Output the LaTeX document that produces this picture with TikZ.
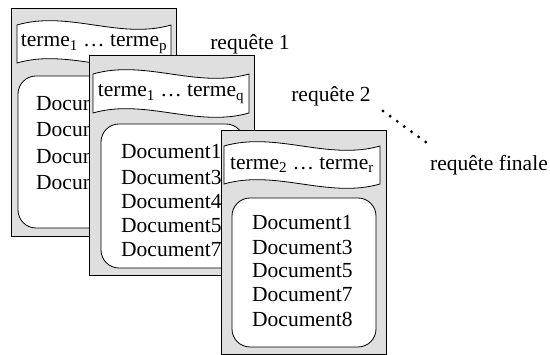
\documentclass[tikz,border=0pt]{standalone}
\usepackage{fontspec}
\setmainfont{Liberation Serif}
\tikzset{
  panel/.style={draw=black, fill=gray!25, line width=0.8pt},
  innerbox/.style={draw=black, fill=white, line width=0.8pt, rounded corners=18pt},
  wave/.style={draw=black, fill=white, line width=0.8pt},
  txt/.style={font=\fontsize{21.5}{24}\selectfont, inner sep=0pt},
  doc/.style={txt, anchor=west},
  dotline/.style={line width=3.2pt, line cap=round, dash pattern=on 0pt off 8.8pt},
}
\newcommand\wavebanner[4]{% x0 y0 w h
  \draw[wave] (#1,#2) .. controls ({#1+#3/3},{#2-15}) and ({#1+2*#3/3},{#2+15}) .. ({#1+#3},#2)
    -- ({#1+#3},{#2+#4}) .. controls ({#1+2*#3/3},{#2+#4+15}) and ({#1+#3/3},{#2+#4-15}) .. (#1,{#2+#4}) -- cycle;}
\begin{document}
\begin{tikzpicture}[x=1pt, y=-1pt]
\useasboundingbox (0,0) rectangle (550,355);
% panel 1
\draw[panel] (11,8) rectangle (176,236);
\wavebanner{17}{25}{154}{38}
\node[txt] (b1) at (94,44) {terme\textsubscript{1} … terme\textsubscript{p}};
\draw[innerbox] (18,76) rectangle (168,228);
\foreach \i/\y in {1/104,2/130,3/157,4/183}
  \node[doc] (p1d\i) at (36,\y) {Document};
% panel 2
\draw[panel] (89,55) rectangle (254,275);
\wavebanner{93}{74}{156}{39}
\node[txt] (b2) at (171,94) {terme\textsubscript{1} … terme\textsubscript{q}};
\draw[innerbox] (101,124) rectangle (244,268);
\foreach \i/\t/\y in {1/1/152,2/3/177,3/4/202,4/5/226,5/7/250}
  \node[doc] (p2d\i) at (121,\y) {Document\t};
% panel 3
\draw[panel] (221,130) rectangle (386,354);
\wavebanner{224}{146}{156}{38}
\node[txt] (b3) at (302,165) {terme\textsubscript{2} … terme\textsubscript{r}};
\draw[innerbox] (232,198) rectangle (376,347);
\foreach \i/\t/\y in {1/1/223,2/3/247,3/5/271,4/7/295,5/8/319}
  \node[doc] (p3d\i) at (252,\y) {Document\t};
% labels
\node[txt] (r1) at (250,44) {requête 1};
\node[txt] (r2) at (331,96) {requête 2};
\node[txt] (rf) at (489,165) {requête finale};
\coordinate (d1) at (383,111);
\coordinate (d2) at (427,143);
\draw[dotline] (d1) -- (d2);
\end{tikzpicture}
\end{document}
